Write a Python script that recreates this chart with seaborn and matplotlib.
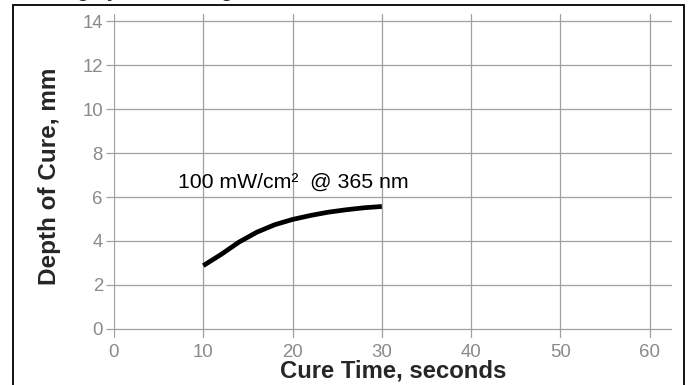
import numpy as np
import pandas as pd
import matplotlib
matplotlib.use("Agg")
import matplotlib.pyplot as plt
import seaborn as sns
from matplotlib.patches import Rectangle

# datos
tiempo = [10, 12, 14, 16, 18, 20, 22, 24, 26, 28, 30]
profundidad = [2.88, 3.39, 3.95, 4.40, 4.74, 4.98, 5.16, 5.31, 5.42, 5.51, 5.57]
xticks = [0, 10, 20, 30, 40, 50, 60]
yticks = [0, 2, 4, 6, 8, 10, 12, 14]

df = pd.DataFrame({"tiempo": tiempo, "profundidad": profundidad})

sns.set_theme(style="whitegrid")
plt.rcParams['font.family'] = ['Liberation Sans', 'DejaVu Sans']

fig = plt.figure(figsize=(6.88, 3.85), dpi=100)
ax = fig.add_axes([114/688, 1-338/385, (672-114)/688, (338-14)/385])

sns.lineplot(data=df, x="tiempo", y="profundidad", ax=ax, color="black",
             linewidth=3.4, solid_capstyle="butt", solid_joinstyle="round")

ax.set_xlim(0, 62.5)
ax.set_ylim(-0.41, 14.32)
ax.set_xticks(xticks)
ax.set_yticks(yticks)
ax.grid(True, color="#a0a0a0", linewidth=0.9)
for s in ax.spines.values():
	s.set_visible(False)
ax.tick_params(axis="y", length=6, width=0.9, color="#a0a0a0", pad=2,
               labelsize=13.4, labelcolor="#8a8a8a", left=True)
ax.tick_params(axis="x", length=0, pad=4, labelsize=13.4, labelcolor="#8a8a8a")

ax.set_xlabel("Cure Time, seconds", fontsize=17.2, fontweight="bold", labelpad=-1)
ax.set_ylabel("Depth of Cure, mm", fontsize=17.5, fontweight="bold", labelpad=15)

ax.text(7.17, 6.4, "100 mW/cm²  @ 365 nm", fontsize=15.3, color="black",
        va="baseline", ha="left")

# titulo cortado arriba, solo se ven los trazos inferiores
fig.text(57/688, 1.0 + 2.6/385, "Highly Penetrating", fontsize=14.3, fontweight="bold",
         va="baseline", ha="left")

# marco negro de la figura
fig.patches.append(Rectangle((13/688, -0.05), (684-13)/688, 1.05-5.5/385,
                             transform=fig.transFigure, fill=False,
                             edgecolor="black", linewidth=1.3))

fig.savefig("out.png", dpi=100)
